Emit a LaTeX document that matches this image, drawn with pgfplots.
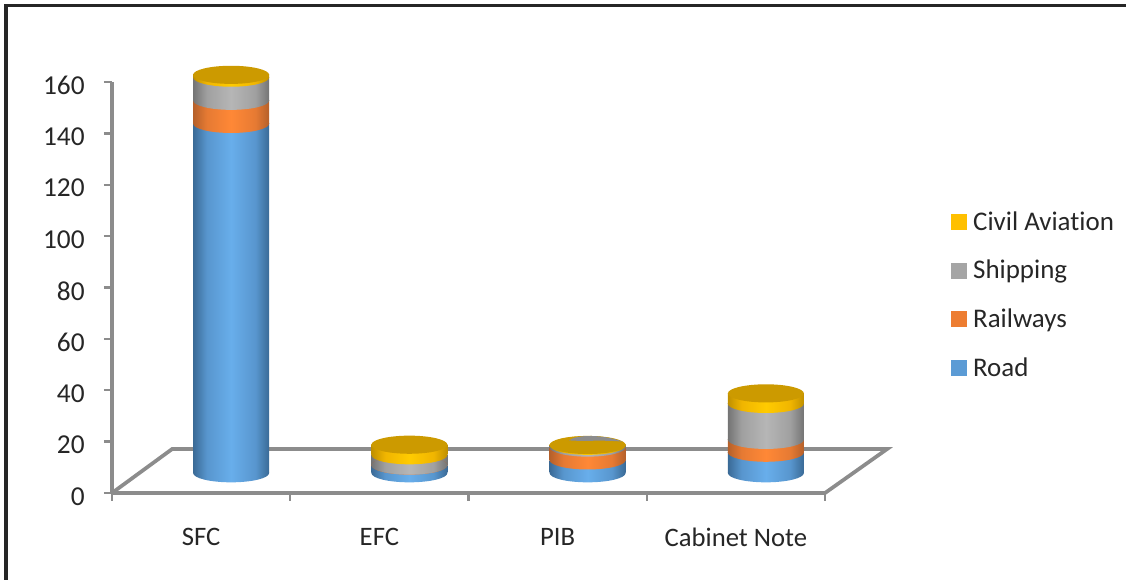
\documentclass[border=0pt]{standalone}
\usepackage{fontspec}
\setmainfont{Carlito}[Ligatures=NoCommon]
\usepackage{pgfplots}
\usepackage{pgfplotstable}
\pgfplotsset{compat=1.18}

\definecolor{roadc}{HTML}{5B9BD5}
\definecolor{railc}{HTML}{ED7D31}
\definecolor{shipc}{HTML}{A5A5A5}
\definecolor{civilc}{HTML}{FFC000}
\definecolor{axisc}{HTML}{8C8C8C}
\definecolor{textc}{HTML}{262626}

% side of a cylinder: dark only towards the edges
\newcommand{\sideshade}[4]{%
  \definecolor{#1e}{HTML}{#2}\definecolor{#1n}{HTML}{#3}\definecolor{#1m}{HTML}{#4}%
  \pgfdeclarehorizontalshading{#1}{100bp}{color(0bp)=(#1e); color(25bp)=(#1e); color(34bp)=(#1n);
    color(50bp)=(#1m); color(66bp)=(#1n); color(75bp)=(#1e); color(100bp)=(#1e)}}
\sideshade{roadside}{3A6A96}{5896CE}{68AEEB}
\sideshade{railside}{B5602A}{E67A33}{FF8836}
\sideshade{shipside}{747474}{A0A0A0}{B6B6B6}
\sideshade{civilside}{C09000}{F0B500}{FFCB00}

% cylinder ends, one px of the reference is 0.75pt
\pgfdeclareplotmark{roadend}{\path[shading=roadside, rotate=6] (0,0) ellipse (28.5pt and 7pt);}
\pgfdeclareplotmark{railend}{\path[shading=railside, rotate=6] (0,0) ellipse (28.5pt and 7pt);}
\pgfdeclareplotmark{shipend}{\path[shading=shipside, rotate=6] (0,0) ellipse (28.5pt and 7pt);}
\pgfdeclareplotmark{civilend}{\path[shading=civilside, rotate=6] (0,0) ellipse (28.5pt and 7pt);}
\pgfdeclareplotmark{cap}{\path[shade=false, fill=civilc!80!black, rotate=6] (0,0) ellipse (28.5pt and 6.8pt);}
\pgfdeclareplotmark{greypatch}{\path[shade=false, fill=shipc!85!black, rotate=6] (-14pt,3.5pt) .. controls (-8pt,8pt) and (12pt,8pt) .. (26pt,2.5pt) .. controls (12pt,4pt) and (-4pt,2.5pt) .. cycle;}

\pgfplotstableread{
x   road rail ship civil
0.5 136  9    9    1
}\sfcdata
\pgfplotstableread{
x   road rail ship civil
1.5 3    0.01 4    4
}\efcdata
\pgfplotstableread{
x   road rail ship civil
2.5 5    5    0.7  0.2
}\pibdata
\pgfplotstableread{
x   road rail ship civil
3.5 8    5    14   4
}\cabdata

\pgfplotsset{
  backaxis/.style={
    at={(22.5pt,15pt)}, anchor=origin,
    scale only axis,
    width=534.75pt,
    height=308.25pt,
    xmin=0, xmax=4,
    ymin=0, ymax=160,
    clip=false,
    hide axis,
  },
}

% one axis for each cylinder, so that each side gets its own shading
\newcommand{\cylinder}[1]{%
\begin{axis}[
    backaxis,
    ybar stacked,
    reverse stacked plots=false,
    bar width=57pt,
]
\addplot[draw=none, shading=roadside, mark=railend] table[x=x, y=road] {#1};
\addplot[draw=none, shading=railside, mark=shipend] table[x=x, y=rail] {#1};
\addplot[draw=none, shading=shipside, mark=civilend] table[x=x, y=ship] {#1};
\addplot[draw=none, shading=civilside, mark=cap] table[x=x, y=civil] {#1};
\end{axis}}

\begin{document}
\begin{tikzpicture}
\path[use as bounding box] (-84pt,-65.25pt) rectangle (760.5pt,369.75pt);
\draw[line width=2.4pt, textc] (-79.5pt,-66pt) -- (-79.5pt,365.5pt) -- (761pt,365.5pt);

\begin{axis}[
    at={(0pt,0pt)}, anchor=origin,
    scale only axis,
    width=534.75pt,
    height=308.25pt,
    xmin=0, xmax=4,
    ymin=0, ymax=160,
    clip=false,
    axis x line=bottom,
    axis y line=left,
    axis line style={axisc, line width=2.8pt, -},
    xtick={0.5,1.5,2.5,3.5},
    xticklabels={SFC,EFC,PIB,Cabinet Note},
    minor xtick={0,1,2,3,4},
    ytick={0,20,...,160},
    tick align=outside,
    major tick length=6pt,
    minor tick length=6pt,
    major x tick style={draw=none},
    minor x tick style={axisc, line width=1.8pt},
    y tick style={axisc, line width=1.8pt},
    every tick label/.append style={textc},
    /pgf/number format/assume math mode=true,
    yticklabel style={font=\fontsize{20.5}{22}\selectfont, xshift=-11pt, yshift=-2.6pt},
    xticklabel style={font=\fontsize{20}{22}\selectfont, yshift=-17pt},
    legend style={
        at={(rel axis cs:1,0.5)}, anchor=west,
        xshift=91pt, yshift=-5.5pt,
        draw=none, fill=none,
        font=\fontsize{20.2}{22}\selectfont\color{textc},
        row sep=17pt,
        cells={anchor=west},
    },
    legend image code/.code={\fill[#1] (0pt,-5.6pt) rectangle (11.2pt,5.6pt); \path (14.5pt,0pt);},
]
\addplot[axisc, line width=2.8pt, forget plot] coordinates {(0,0)(0.337,17.1)(4.348,17.1)(4,0)};
\addlegendimage{civilc}
\addlegendentry{Civil Aviation}
\addlegendimage{shipc}
\addlegendentry{Shipping}
\addlegendimage{railc}
\addlegendentry{Railways}
\addlegendimage{roadc}
\addlegendentry{Road}
\end{axis}

% bottom ends of the cylinders
\begin{axis}[backaxis]
\addplot[only marks, draw=none, mark=roadend] coordinates {(0.5,0)(1.5,0)(2.5,0)(3.5,0)};
\end{axis}

\cylinder{\sfcdata}
\cylinder{\efcdata}
\cylinder{\pibdata}
\cylinder{\cabdata}

% grey showing through the gold on top of PIB
\begin{axis}[backaxis]
\addplot[only marks, draw=none, mark=greypatch] coordinates {(2.5,10.9)};
\end{axis}
\end{tikzpicture}
\end{document}
